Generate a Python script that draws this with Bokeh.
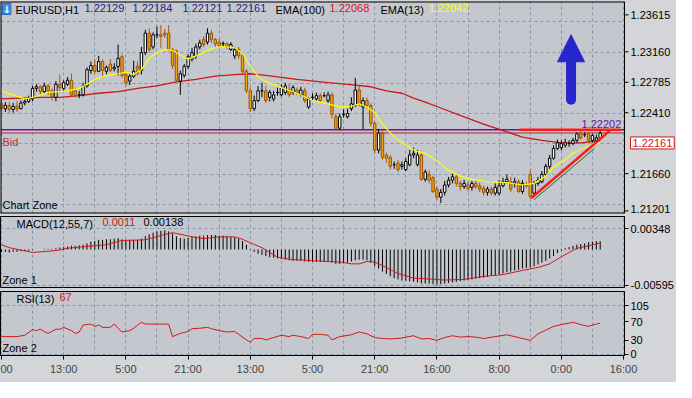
from bokeh.plotting import figure
from bokeh.layouts import column
from bokeh.models import (Range1d, FixedTicker, Label, Arrow, NormalHead,
                          ColumnDataSource, PrintfTickFormatter)
from bokeh.core.properties import value
from bokeh.embed import file_html
from bokeh.resources import INLINE

# ---------------- data ----------------
bar_open = [1.2252,1.2246,1.2250,1.2245,1.2249,1.2246,1.2253,1.2255,1.2258,1.2271,
            1.2273,1.2267,1.2274,1.2268,1.2260,1.2276,1.2271,1.2276,1.2281,1.2268,
            1.2263,1.2263,1.2274,1.2293,1.2299,1.2292,1.2304,1.2292,1.2301,1.2295,
            1.2298,1.2310,1.2288,1.2280,1.2286,1.2298,1.2293,1.2315,1.2339,1.2322,
            1.2337,1.2337,1.2339,1.2339,1.2319,1.2317,1.2280,1.2287,1.2298,1.2307,
            1.2311,1.2322,1.2331,1.2328,1.2339,1.2331,1.2328,1.2326,1.2326,1.2319,
            1.2311,1.2319,1.2311,1.2292,1.2268,1.2246,1.2256,1.2268,1.2268,1.2260,
            1.2258,1.2266,1.2263,1.2266,1.2269,1.2266,1.2269,1.2263,1.2268,1.2248,
            1.2260,1.2258,1.2262,1.2262,1.2256,1.2263,1.2236,1.2222,1.2239,1.2236,
            1.2246,1.2250,1.2269,1.2248,1.2256,1.2250,1.2228,1.2195,1.2216,1.2189,
            1.2186,1.2177,1.2179,1.2175,1.2171,1.2177,1.2189,1.2177,1.2189,1.2159,
            1.2165,1.2161,1.2147,1.2137,1.2143,1.2152,1.2158,1.2162,1.2154,1.2150,
            1.2152,1.2149,1.2154,1.2151,1.2148,1.2143,1.2147,1.2142,1.2142,1.2151,
            1.2156,1.2156,1.2154,1.2156,1.2144,1.2152,1.2165,1.2142,1.2154,1.2156,
            1.2165,1.2175,1.2185,1.2197,1.2198,1.2201,1.2203,1.2203,1.2207,1.2216,
            1.2214,1.2215,1.2207,1.2207,1.2210]
bar_close = [1.2246,1.2250,1.2245,1.2249,1.2246,1.2253,1.2255,1.2259,1.2271,1.2273,
             1.2267,1.2274,1.2268,1.2261,1.2276,1.2272,1.2278,1.2281,1.2263,1.2262,
             1.2263,1.2274,1.2294,1.2299,1.2292,1.2304,1.2293,1.2297,1.2293,1.2297,
             1.2308,1.2287,1.2278,1.2286,1.2292,1.2289,1.2315,1.2339,1.2319,1.2337,
             1.2337,1.2335,1.2337,1.2319,1.2299,1.2281,1.2289,1.2298,1.2310,1.2315,
             1.2322,1.2327,1.2325,1.2339,1.2331,1.2326,1.2324,1.2326,1.2322,1.2325,
             1.2319,1.2311,1.2292,1.2268,1.2246,1.2256,1.2268,1.2268,1.2256,1.2266,
             1.2263,1.2266,1.2272,1.2274,1.2263,1.2272,1.2266,1.2269,1.2256,1.2258,
             1.2260,1.2262,1.2256,1.2262,1.2263,1.2239,1.2222,1.2236,1.2239,1.2240,
             1.2252,1.2269,1.2252,1.2256,1.2250,1.2228,1.2195,1.2216,1.2186,1.2185,
             1.2175,1.2177,1.2171,1.2177,1.2181,1.2189,1.2191,1.2189,1.2159,1.2168,
             1.2158,1.2144,1.2137,1.2143,1.2152,1.2158,1.2162,1.2154,1.2150,1.2154,
             1.2148,1.2154,1.2150,1.2147,1.2143,1.2147,1.2142,1.2149,1.2151,1.2156,
             1.2159,1.2147,1.2156,1.2144,1.2154,1.2151,1.2138,1.2154,1.2158,1.2165,
             1.2175,1.2185,1.2197,1.2204,1.2203,1.2204,1.2203,1.2207,1.2215,1.2210,
             1.2214,1.2207,1.2213,1.2210,1.2216]
bar_high = [1.2256,1.2254,1.2254,1.2253,1.2255,1.2256,1.2259,1.2262,1.2274,1.2276,
            1.2275,1.2278,1.2276,1.2271,1.2280,1.2288,1.2281,1.2285,1.2289,1.2272,
            1.2268,1.2278,1.2297,1.2304,1.2307,1.2311,1.2307,1.2299,1.2307,1.2302,
            1.2325,1.2313,1.2291,1.2289,1.2305,1.2304,1.2322,1.2343,1.2345,1.2340,
            1.2347,1.2349,1.2344,1.2349,1.2321,1.2319,1.2293,1.2301,1.2313,1.2321,
            1.2326,1.2331,1.2335,1.2345,1.2343,1.2333,1.2332,1.2329,1.2328,1.2328,
            1.2322,1.2322,1.2313,1.2295,1.2272,1.2262,1.2274,1.2278,1.2274,1.2269,
            1.2268,1.2272,1.2276,1.2278,1.2276,1.2275,1.2272,1.2273,1.2272,1.2260,
            1.2265,1.2266,1.2265,1.2266,1.2267,1.2266,1.2240,1.2240,1.2245,1.2246,
            1.2260,1.2284,1.2274,1.2260,1.2260,1.2253,1.2230,1.2221,1.2219,1.2192,
            1.2189,1.2181,1.2183,1.2181,1.2185,1.2195,1.2198,1.2195,1.2192,1.2171,
            1.2170,1.2163,1.2150,1.2147,1.2157,1.2162,1.2166,1.2165,1.2157,1.2158,
            1.2156,1.2157,1.2158,1.2155,1.2151,1.2150,1.2150,1.2154,1.2158,1.2161,
            1.2165,1.2162,1.2161,1.2159,1.2158,1.2156,1.2170,1.2157,1.2162,1.2169,
            1.2178,1.2189,1.2201,1.2208,1.2207,1.2209,1.2207,1.2210,1.2217,1.2219,
            1.2217,1.2217,1.2215,1.2214,1.2219]
bar_low = [1.2243,1.2242,1.2241,1.2241,1.2242,1.2245,1.2250,1.2253,1.2255,1.2267,
           1.2263,1.2265,1.2263,1.2256,1.2255,1.2266,1.2268,1.2274,1.2261,1.2260,
           1.2259,1.2261,1.2272,1.2289,1.2289,1.2291,1.2284,1.2288,1.2291,1.2292,
           1.2287,1.2284,1.2274,1.2275,1.2284,1.2287,1.2288,1.2312,1.2315,1.2319,
           1.2333,1.2321,1.2333,1.2317,1.2295,1.2278,1.2263,1.2284,1.2295,1.2304,
           1.2307,1.2319,1.2322,1.2325,1.2327,1.2322,1.2321,1.2322,1.2319,1.2317,
           1.2307,1.2307,1.2289,1.2265,1.2242,1.2243,1.2254,1.2260,1.2253,1.2255,
           1.2255,1.2262,1.2261,1.2263,1.2260,1.2263,1.2263,1.2261,1.2253,1.2246,
           1.2256,1.2255,1.2254,1.2260,1.2253,1.2234,1.2219,1.2220,1.2235,1.2234,
           1.2243,1.2248,1.2249,1.2221,1.2246,1.2224,1.2191,1.2191,1.2183,1.2179,
           1.2171,1.2172,1.2168,1.2171,1.2169,1.2175,1.2185,1.2175,1.2157,1.2156,
           1.2154,1.2142,1.2134,1.2130,1.2139,1.2149,1.2154,1.2150,1.2145,1.2147,
           1.2144,1.2145,1.2147,1.2143,1.2139,1.2139,1.2139,1.2139,1.2139,1.2149,
           1.2154,1.2143,1.2149,1.2142,1.2141,1.2148,1.2135,1.2139,1.2151,1.2154,
           1.2163,1.2172,1.2183,1.2195,1.2195,1.2198,1.2199,1.2201,1.2204,1.2208,
           1.2211,1.2204,1.2204,1.2204,1.2209]
bar_index = list(range(len(bar_open)))

ema13_idx = [0,3,6,9,12,15,17,20,22,24,27,30,32,34,36,38,40,42,44,46,48,50,52,54,56,58,60,62,64,
             66,68,72,76,80,84,87,90,92,94,96,98,101,104,107,109,112,115,118,121,125,130,134,137,
             140,142,145,147,149,152,154]
ema13_val = [1.2268,1.2263,1.2258,1.2261,1.2266,1.2267,1.2268,1.2271,1.2276,1.2282,1.2287,1.2289,
             1.2291,1.2288,1.2294,1.2308,1.2315,1.2319,1.2318,1.2312,1.2307,1.2311,1.2315,1.2320,
             1.2322,1.2322,1.2321,1.2314,1.2298,1.2286,1.2279,1.2272,1.2265,1.2256,1.2252,1.2248,
             1.2249,1.2252,1.2248,1.2241,1.2227,1.2211,1.2201,1.2193,1.2191,1.2182,1.2170,1.2163,
             1.2159,1.2156,1.2155,1.2152,1.2154,1.2163,1.2174,1.2183,1.2191,1.2196,1.2201,1.22042]
ema100_idx = [0,10,15,20,25,30,35,40,45,50,55,60,64,68,76,84,91,95,99,103,106,109,114,119,124,
              129,134,139,144,149,154]
ema100_val = [1.2258,1.2260,1.2260,1.2262,1.2265,1.2267,1.2271,1.2274,1.2279,1.2282,1.2286,1.2288,
              1.2289,1.2287,1.2282,1.2278,1.2275,1.2273,1.2268,1.2265,1.2259,1.2254,1.2245,1.2236,
              1.2227,1.2219,1.2211,1.2207,1.2204,1.2204,1.22068]

macd_hist = [-0.0004,-0.0004,-0.0005,-0.0004,-0.0004,-0.0003,-0.0003,-0.0002,
             -0.0001,0.0000,0.0000,0.0001,0.0001,0.0001,0.0002,
             0.0003,0.0004,0.0005,0.0006,0.0006,0.0007,0.0008,0.0010,
             0.0013,0.0014,0.0016,0.0016,0.0017,0.0017,0.0018,0.0019,0.0017,0.0016,
             0.0016,0.0016,0.0016,0.0018,
             0.0022,0.0025,0.0028,0.0030,0.0031,0.0032,0.0030,
             0.0027,0.0022,0.0019,0.0018,0.0019,0.0021,
             0.0022,0.0023,0.0023,0.0024,0.0024,0.0024,0.0023,0.0023,0.0022,0.0021,0.0020,
             0.0018,0.0014,0.0008,0.0001,
             -0.0004,-0.0007,-0.0009,-0.0011,-0.0013,-0.0014,-0.0015,-0.0016,-0.0017,-0.0018,
             -0.0019,-0.0019,-0.0019,-0.0020,-0.0021,-0.0021,-0.0021,-0.0021,-0.0021,-0.0021,
             -0.0022,-0.0024,-0.0024,-0.0023,-0.0022,-0.0020,-0.0018,-0.0017,-0.0017,-0.0018,
             -0.0022,-0.0028,-0.0032,-0.0037,-0.0041,-0.0045,
             -0.0048,-0.0050,-0.0052,-0.0052,-0.0053,-0.0054,-0.0055,-0.0057,
             -0.0057,-0.0057,-0.0058,-0.0059,-0.0058,-0.0057,-0.0056,-0.0055,
             -0.0054,-0.0053,-0.0052,-0.0051,-0.0050,-0.0049,-0.0048,-0.0047,
             -0.0046,-0.0044,-0.0043,-0.0041,-0.0040,-0.0038,-0.0037,-0.0035,-0.0034,-0.0032,-0.0031,
             -0.0030,-0.0028,-0.0025,-0.0022,-0.0019,-0.0015,-0.0011,-0.0006,
             -0.0002,0.0002,0.0004,0.0006,0.0008,0.0009,0.0010,0.0012,0.0013,0.0014,0.00138]
macd_sig_idx = [0,2,5,8,12,15,17,22,27,31,37,42,44,47,50,52,56,60,62,64,67,71,75,87,90,92,94,96,
                98,102,106,109,114,119,124,129,134,138,141,143,146,148,151,154]
macd_sig_val = [0.0008,0.0003,-0.0001,-0.0005,-0.0003,-0.0001,0.0002,0.0005,0.0008,0.0015,0.0016,
                0.0025,0.0028,0.0024,0.0020,0.0018,0.0021,0.0021,0.0017,0.0011,0.0003,-0.0013,
                -0.0017,-0.0021,-0.0024,-0.0024,-0.0020,-0.0021,-0.0027,-0.0040,-0.0048,-0.0049,
                -0.0051,-0.0050,-0.0045,-0.0042,-0.0035,-0.0030,-0.0024,-0.0016,-0.0005,0.0002,
                0.0006,0.0011]

rsi_idx = [0,4,6,8,9,10,11,12,14,15,16,18,19,20,21,23,24,25,26,28,29,30,31,33,34,36,37,42,43,44,
           46,48,49,51,53,54,56,58,60,61,63,64,65,67,68,70,72,74,75,77,79,80,82,84,85,87,90,92,
           94,96,98,100,103,106,108,110,112,114,116,118,120,122,124,127,130,133,136,138,140,142,
           144,146,147,149,151,153,154]
rsi_val = [38,38,41,53,51,54,49,45,54,54,58,51,45,48,63,65,60,63,58,58,65,56,48,51,56,69,65,65,65,
           38,45,49,55,56,58,55,51,48,49,43,31,26,34,34,31,36,41,38,41,38,34,43,43,41,31,38,42,48,
           44,36,34,33,35,40,33,34,30,36,40,37,38,37,34,38,42,36,30,44,52,60,64,67,69,64,60,65,67]

time_tick_pos = [0, 16, 32, 48, 64, 80, 96, 112, 128, 144, 160]
time_tick_labels = ["00", "13:00", "5:00", "21:00", "13:00", "5:00", "21:00",
                    "16:00", "8:00", "0:00", "16:00"]
price_ticks = [1.23615, 1.23160, 1.22785, 1.22410, 1.21660, 1.21201]
price_grid = [1.23532, 1.23154, 1.22776, 1.22398, 1.22032, 1.21653, 1.21275]
macd_ticks = [0.00348, -0.00595]
rsi_ticks = [0, 30, 70, 105]
rsi_grid = [0, 105]

quote_ohlc = ["1.22129", "1.22184", "1.22121", "1.22161"]
ema100_last = "1.22068"
ema13_last = "1.22042"
level_price = 1.22202
bid_price = 1.22161
macd_sig_last = "0.0011"
macd_hist_last = "0.00138"
rsi_last = "67"

resist_x = [133.3, 159.3]
resist_y = [1.22202, 1.22202]
trend_x = [136.3, 156.5]
trend_y = [1.2136, 1.2219]
support_x = [137.0, 152.5]
support_y = [1.2134, 1.2197]
arrow_x = 146.5
arrow_y = [1.2257, 1.2302, 1.2337]     # shaft bottom, shaft top (inside head), tip

# ---------------- styling ----------------
FW = 624            # plotting frame width
AXW = 52            # right price-axis strip
OUTER = "#d3d5d8"
FRAME = "#c4c8ce"
GRID = "#8497ab"
FONT = "Liberation Sans"
FS = "11px"
NAVY = "#1c1c8e"
RED = "#d01818"
BLUE = "#2626cc"

X0, X1 = -0.25, 160.25
xr = Range1d(X0, X1)
k = (X1 - X0) / FW                     # data units per pixel along x
grid_x = list(range(0, 161, 8))


def style_common(p):
    p.background_fill_color = FRAME
    p.border_fill_color = OUTER
    p.xgrid.ticker = FixedTicker(ticks=grid_x)
    for g in (p.xgrid, p.ygrid):
        g.grid_line_color = GRID
        g.grid_line_dash = "3 3"
        g.grid_line_width = 1


def make_fig(frame_h, yr, top, bottom, xaxis=False):
    p = figure(frame_width=FW, frame_height=frame_h, x_range=xr, y_range=yr,
               output_backend="svg", toolbar_location=None,
               x_axis_location="below" if xaxis else None, y_axis_location="right",
               min_border_left=0, min_border_right=AXW, min_border_top=top,
               min_border_bottom=bottom)
    style_common(p)
    p.outline_line_color = "black"
    p.outline_line_width = 1
    ax = p.yaxis[0]
    ax.axis_line_color = "black"
    ax.major_tick_out = 4
    ax.major_tick_in = 0
    ax.minor_tick_out = 0
    ax.minor_tick_in = 0
    ax.major_label_standoff = 2
    ax.major_label_text_font = FONT
    ax.major_label_text_font_size = FS
    ax.major_label_text_color = "black"
    return p


def lab(p, x, y, text, color="black", **kw):
    p.add_layout(Label(x=x, y=y, x_units="screen", y_units="screen", text=text,
                       text_color=color, text_font=FONT, text_font_size=FS, **kw))


# ---------------- main chart (price scale drawn inside a full-width frame) ----------------
MAIN_H = 212
Y0, Y1 = 1.21169, 1.23780
XEND = X0 + k * (FW + AXW)
p1 = figure(frame_width=FW + AXW, frame_height=MAIN_H, x_range=Range1d(X0, XEND),
            y_range=Range1d(Y0, Y1), output_backend="svg", toolbar_location=None,
            x_axis_location=None, y_axis_location=None,
            min_border_left=0, min_border_right=0, min_border_top=1, min_border_bottom=3)
style_common(p1)
p1.outline_line_color = None
p1.ygrid.ticker = FixedTicker(ticks=price_grid)

bull = [c > o for o, c in zip(bar_open, bar_close)]
doji = [c == o for o, c in zip(bar_open, bar_close)]
src = ColumnDataSource(dict(
    x=bar_index, o=bar_open, h=bar_high, l=bar_low, c=bar_close,
    top=[max(o, c) for o, c in zip(bar_open, bar_close)],
    bottom=[min(o, c) for o, c in zip(bar_open, bar_close)],
    fill=["white" if b else ("black" if d else "#f2a30c") for b, d in zip(bull, doji)],
    edge=["black" if (b or d) else "#9a5208" for b, d in zip(bull, doji)],
    wick=["black" if (b or d) else "#a8580c" for b, d in zip(bull, doji)],
))

# horizontal levels
p1.segment(x0=[X0], y0=[level_price], x1=[X1], y1=[level_price], line_color="#6a10a8", line_width=1.5)
p1.segment(x0=[X0], y0=[bid_price], x1=[X1 + 2 * k], y1=[bid_price], line_color="#b02828", line_width=1)

p1.line(ema100_idx, ema100_val, line_color="#c81818", line_width=1.3)
p1.segment(x0="x", y0="l", x1="x", y1="h", line_color="wick", line_width=1, source=src)
p1.vbar(x="x", width=0.62, top="top", bottom="bottom", fill_color="fill",
        line_color="edge", line_width=1, source=src)
p1.line(ema13_idx, ema13_val, line_color="#ffff00", line_width=1.2)

p1.line(support_x, support_y, line_color="#1e6b1e", line_width=1)
p1.line(resist_x, resist_y, line_color="#ff1a1a", line_width=2.5)
p1.line(trend_x, trend_y, line_color="#ff1a1a", line_width=2.5)

# blue arrow: rounded shaft + triangular head
p1.segment(x0=[arrow_x], y0=[arrow_y[0]], x1=[arrow_x], y1=[arrow_y[1]],
           line_color=BLUE, line_width=10, line_cap="round")
p1.add_layout(Arrow(end=NormalHead(size=27, fill_color=BLUE, line_color=BLUE, line_width=1),
                    x_start=arrow_x, y_start=arrow_y[1], x_end=arrow_x, y_end=arrow_y[2],
                    line_alpha=0))

# price-axis strip on the right
p1.quad(left=[X1], right=[XEND], bottom=[Y0], top=[Y1], fill_color=OUTER, line_color=None)
p1.segment(x0=[X1], y0=[Y0], x1=[X1], y1=[Y1], line_color="black", line_width=1)
p1.segment(x0=[X0, X0], y0=[Y0, Y1], x1=[X1, X1], y1=[Y0, Y1], line_color="black", line_width=2)
p1.segment(x0=[X0], y0=[Y0], x1=[X0], y1=[Y1], line_color="black", line_width=2)
p1.segment(x0=[X1] * len(price_ticks), y0=price_ticks, x1=[X1 + 4 * k] * len(price_ticks),
           y1=price_ticks, line_color="black", line_width=1)
p1.text(x=[X1] * len(price_ticks), y=price_ticks, text=[f"{v:.5f}" for v in price_ticks],
        x_offset=6, y_offset=[0, 0, 0, 0, 0, -2], text_baseline="middle", text_align="left",
        text_font=value(FONT), text_font_size=FS, text_color="black")
p1.text(x=[X1], y=[bid_price], text=[f"{bid_price:.5f}"], x_offset=6, y_offset=4,
        text_baseline="top", text_align="left", text_font=value(FONT), text_font_size=FS,
        text_color=RED, background_fill_color="white", border_line_color=RED,
        padding=2)

# header
p1.add_layout(Label(x=2, y=MAIN_H - 2, x_units="screen", y_units="screen", text="↓",
                    text_color="white", text_font="DejaVu Sans", text_font_size="10px",
                    text_font_style="bold", text_baseline="top",
                    background_fill_color="#3b8ede", border_line_color="#2a6cb8"))
hdr = [(15, "EURUSD,H1", "black"), (84, quote_ohlc[0], NAVY), (132, quote_ohlc[1], NAVY),
       (182, quote_ohlc[2], NAVY), (226, quote_ohlc[3], NAVY), (275, "EMA(100)", "black"),
       (329, ema100_last, RED), (380, "EMA(13)", "black"), (428, ema13_last, "#ffff00")]
for x, t, col in hdr:
    lab(p1, x, MAIN_H - 2, t, col, text_baseline="top")
lab(p1, 2, 3, "Chart Zone", "black", text_baseline="bottom")

p1.add_layout(Label(x=2, y=bid_price, x_units="screen", y_units="data", text="Bid",
                    text_color="#b83030", text_font=FONT, text_font_size=FS,
                    text_baseline="top", y_offset=-3))
p1.add_layout(Label(x=149.2, y=level_price, text=f"{level_price:.5f}", text_color="#6a10a8",
                    text_font=FONT, text_font_size=FS, text_baseline="bottom", y_offset=2))

# ---------------- MACD ----------------
MACD_H = 71
p2 = make_fig(MACD_H, Range1d(-0.00635, 0.0055), 0, 4)
p2.yaxis[0].ticker = FixedTicker(ticks=macd_ticks)
p2.yaxis[0].formatter = PrintfTickFormatter(format="%.5f")
p2.ygrid.ticker = FixedTicker(ticks=macd_ticks)
p2.segment(x0=bar_index, y0=[0] * len(macd_hist), x1=bar_index, y1=macd_hist,
           line_color="black", line_width=1)
p2.line(macd_sig_idx, macd_sig_val, line_color=RED, line_width=1)
lab(p2, 16, MACD_H - 1, "MACD(12,55,7)", "black", text_baseline="top")
lab(p2, 102, MACD_H - 1, macd_sig_last, RED, text_baseline="top")
lab(p2, 143, MACD_H - 1, macd_hist_last, "black", text_baseline="top")
lab(p2, 2, 2, "Zone 1", "black", text_baseline="bottom")

# ---------------- RSI ----------------
RSI_H = 64
p3 = make_fig(RSI_H, Range1d(-2.7, 135.3), 0, 27, xaxis=True)
p3.yaxis[0].ticker = FixedTicker(ticks=rsi_ticks)
p3.ygrid.ticker = FixedTicker(ticks=rsi_grid)
p3.line(rsi_idx, rsi_val, line_color=RED, line_width=1)
lab(p3, 16, RSI_H - 1, "RSI(13)", "black", text_baseline="top")
lab(p3, 59, RSI_H - 1, rsi_last, RED, text_baseline="top")
lab(p3, 2, 2, "Zone 2", "black", text_baseline="bottom")

xa = p3.xaxis[0]
xa.ticker = FixedTicker(ticks=time_tick_pos)
xa.major_label_overrides = {pos: t for pos, t in zip(time_tick_pos, time_tick_labels)}
xa.axis_line_color = "black"
xa.major_tick_out = 4
xa.major_tick_in = 0
xa.minor_tick_out = 0
xa.minor_tick_in = 0
xa.major_label_standoff = 3
xa.major_label_text_font = FONT
xa.major_label_text_font_size = FS

layout = column(p1, p2, p3, spacing=0)
layout.styles = {"background-color": OUTER}
open("out.html", "w").write(file_html(layout, INLINE))
